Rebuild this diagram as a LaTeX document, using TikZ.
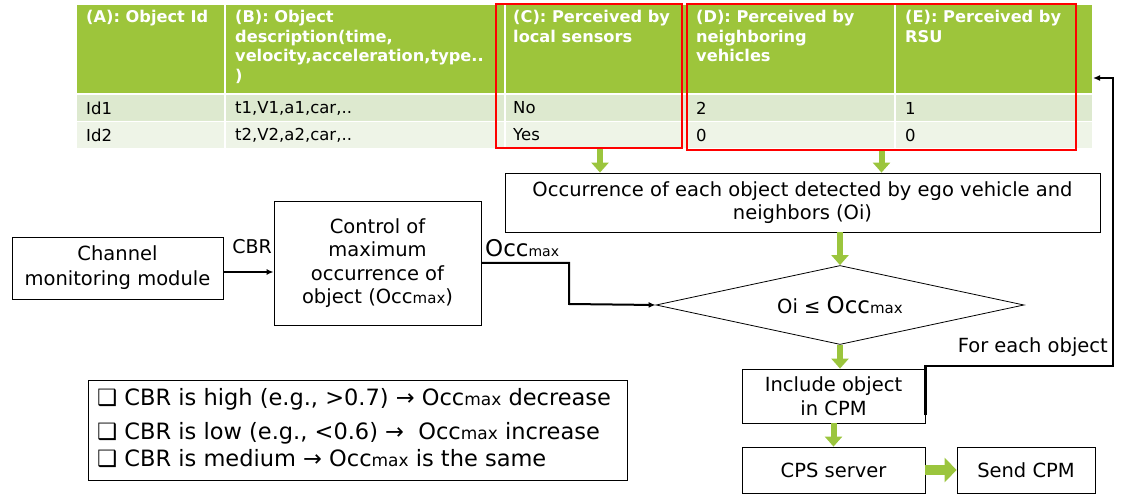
\documentclass[tikz,border=0pt]{standalone}
\usepackage{fontspec}
\setmainfont{DejaVu Sans}
\usetikzlibrary{arrows.meta,shapes.geometric}
\definecolor{hdr}{HTML}{9DC53B}
\definecolor{rowa}{HTML}{DDE9CF}
\definecolor{rowb}{HTML}{EEF4E7}
\definecolor{arrg}{HTML}{9BC53D}
\newcommand{\OccM}[2]{{\fontsize{#1}{#1}\selectfont Occ}{\fontsize{#2}{#2}\selectfont max}}
\begin{document}
\begin{tikzpicture}[x=1pt,y=-1pt,
  box/.style={draw, line width=0.8pt, align=center, inner sep=0pt, font=\fontsize{19.5}{23.5}\selectfont},
  garrow/.style={draw=arrg, line width=6pt, -{Triangle[width=17pt,length=10pt]}},
  gbig/.style={draw=arrg, line width=10pt, -{Triangle[width=24pt,length=12pt]}},
  blk/.style={line width=2pt, -{Latex[length=7pt,width=6pt]}},
  fb/.style={line width=2.4pt, -{Latex[length=7pt,width=6pt]}},
  hd/.style={anchor=north west, text=white, font=\bfseries\fontsize{16.2}{19.5}\selectfont, align=left, inner sep=0pt},
  cell/.style={anchor=west, font=\fontsize{16.5}{18}\selectfont, inner sep=0pt},
  redbox/.style={draw=red, line width=2pt, inner sep=0pt},
  lbl/.style={font=\fontsize{19.5}{22}\selectfont, inner sep=0pt}]
\useasboundingbox (0,0) rectangle (1121,494);
% table
\fill[hdr] (77,5) rectangle (1092,93);
\fill[rowa] (77,95) rectangle (1092,121);
\fill[rowb] (77,122) rectangle (1092,148);
\foreach \xx in {225,505,687,895} \draw[white, line width=1.5pt] (\xx,5) -- (\xx,148);
\node[hd] (hA) at (86,10) {(A): Object Id};
\node[hd] (hB) at (235,10) {(B): Object\\description(time,\\velocity,acceleration,type..\\)};
\node[hd] (hC) at (513,10) {(C): Perceived by\\local sensors};
\node[hd] (hD) at (696,10) {(D): Perceived by\\neighboring\\vehicles};
\node[hd] (hE) at (905,10) {(E): Perceived by\\RSU};
\node[cell] (a1) at (86,108) {Id1};
\node[cell] (b1) at (235,108) {t1,V1,a1,car,..};
\node[cell] (c1) at (513,108) {No};
\node[cell] (d1) at (696,108) {2};
\node[cell] (e1) at (905,108) {1};
\node[cell] (a2) at (86,135) {Id2};
\node[cell] (b2) at (235,135) {t2,V2,a2,car,..};
\node[cell] (c2) at (513,135) {Yes};
\node[cell] (d2) at (696,135) {0};
\node[cell] (e2) at (905,135) {0};
\node[redbox, minimum width=186, minimum height=144] (rc) at (589,76) {};
\node[redbox, minimum width=389, minimum height=146] (rd) at (881.5,77) {};
\coordinate (tblE) at (1093,78);
% boxes
\node[box, minimum width=595, minimum height=59] (occb) at (802.5,202.5)
  {Occurrence of each object detected by ego vehicle and\\neighbors (Oi)};
\node[box, minimum width=211, minimum height=62, font=\fontsize{19.5}{25}\selectfont] (chan) at (117.5,268)
  {Channel\\monitoring module};
\node[box, minimum width=207, minimum height=124] (ctrl) at (377.5,263)
  {Control of\\maximum\\occurrence of\\object (\OccM{19.5}{15})};
\node[draw, diamond, aspect=4.6, minimum width=368, minimum height=79, inner sep=0pt, line width=0.8pt,
  font=\fontsize{19.5}{22}\selectfont] (dia) at (840,305) {Oi ≤ \OccM{23}{15}};
\node[box, minimum width=183, minimum height=54] (incl) at (833.5,396) {Include object\\in CPM};
\node[box, minimum width=183, minimum height=46] (cps) at (833.5,470) {CPS server};
\node[box, minimum width=138, minimum height=46] (send) at (1026,470) {Send CPM};
\node[draw, line width=0.8pt, minimum width=539, minimum height=100, inner sep=0pt] (rules) at (357.5,430) {};
\node[anchor=north west, align=left, inner sep=0pt, font=\fontsize{22.5}{27}\selectfont] (rtxt) at (97,388)
  {❑ CBR is high (e.g., >0.7) → \OccM{22.5}{17} decrease\\[7pt]
   ❑ CBR is low (e.g., <0.6) → \ \OccM{22.5}{17} increase\\
   ❑ CBR is medium → \OccM{22.5}{17} is the same};
% green arrows
\draw[garrow] ([xshift=11pt]rc.south) -- ([xshift=11pt]rc.south |- occb.north);
\draw[garrow] (rd.south) -- (rd.south |- occb.north);
\draw[garrow] (dia.north |- occb.south) -- (dia.north);
\draw[garrow] (dia.south) -- (dia.south |- incl.north);
\draw[garrow] (incl.south) -- (cps.north);
\draw[gbig] (cps.east) -- (send.west);
% black connectors
\draw[blk] ([yshift=-4pt]chan.east) -- ([yshift=-4pt]chan.east -| ctrl.west);
\node[lbl, font=\fontsize{19}{21}\selectfont] (cbr) at (252,247) {CBR};
\coordinate (oc1) at (569,263);
\coordinate (oc2) at (569,304);
\draw[blk] (ctrl.east) -- (oc1) -- (oc2) -- (dia.west);
\node[lbl, anchor=base west] (occl) at (485,257) {\OccM{23}{14}};
\coordinate (fb1) at (1113,366);
\draw[fb] ([yshift=-19pt]incl.east) |- (fb1) |- (tblE);
\node[lbl, anchor=east] (fel) at (1108,347) {For each object};
\end{tikzpicture}
\end{document}
